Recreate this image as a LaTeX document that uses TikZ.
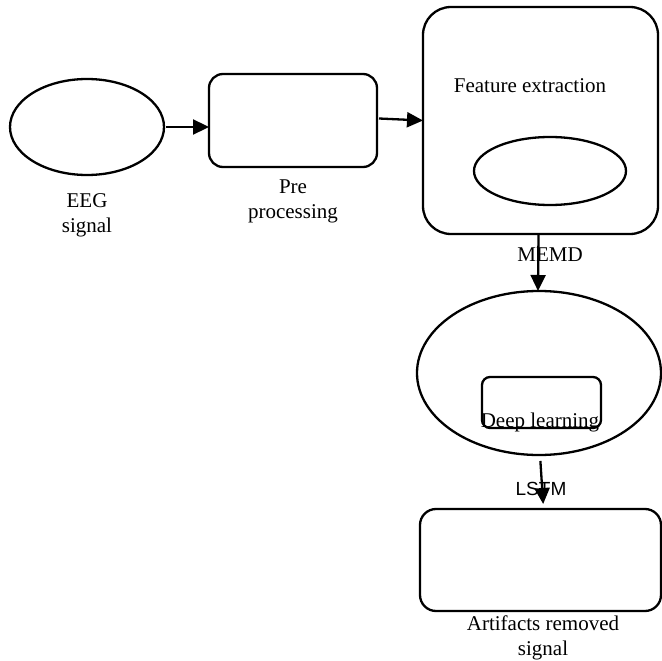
\documentclass[tikz,border=0pt]{standalone}
\usepackage{fontspec}
\setmainfont{Liberation Serif}
\newfontfamily\lsans{Liberation Sans}
\usetikzlibrary{shapes.geometric,arrows.meta}
\begin{document}
\begin{tikzpicture}[x=1pt,y=-1pt,
  every node/.style={inner sep=0pt, outer sep=0pt},
  shp/.style={draw, line width=2.3pt},
  ell/.style={shp, ellipse},
  rbox/.style={shp, rectangle},
  lbl/.style={font=\fontsize{21}{25}\selectfont, align=center},
  arr/.style={line width=2.3pt, -{Triangle[length=16pt,width=15pt]}}
]
\useasboundingbox (0,0) rectangle (662,661);
% shapes
\node[ell, minimum width=154pt, minimum height=96pt] (eeg) at (87,127) {};
\node[rbox, rounded corners=14pt, minimum width=168pt, minimum height=93pt] (pre) at (293,120.5) {};
\node[rbox, rounded corners=28pt, minimum width=235pt, minimum height=227pt] (feat) at (540.5,120.5) {};
\node[ell, minimum width=152pt, minimum height=68pt] (featell) at (550,171) {};
\node[ell, minimum width=244pt, minimum height=164pt] (deep) at (539,373) {};
\node[rbox, rounded corners=8pt, minimum width=119pt, minimum height=51pt] (deeprect) at (541.5,402.5) {};
\node[rbox, rounded corners=16pt, minimum width=241pt, minimum height=102pt] (out) at (540.5,560) {};
% labels
\node[lbl] (eeglbl) at (87,215) {EEG\\signal};
\node[lbl] (prelbl) at (293,201) {Pre\\processing};
\node[lbl] (featlbl) at (530,86) {Feature extraction};
\node[lbl] (deeplbl) at (540,422) {Deep learning};
\node[lbl] (outlbl) at (543,638) {Artifacts removed\\signal};
% connectors
\draw[arr] (eeg.east) ++(2pt,0) -- (eeg.east -| pre.west);
\draw[arr] ([yshift=2pt]pre.east) ++(2pt,0) -- (feat.west);
\draw[arr] ([xshift=-2pt]feat.south) -- ([xshift=-1pt]deep.north);
\draw[arr, shorten <=6pt, shorten >=5pt] ([xshift=1pt]deep.south) -- ([xshift=3pt]out.north);
\node[lbl] (memd) at (550,255) {MEMD};
\node[font=\lsans\fontsize{19}{22}\selectfont] (lstm) at (541,489) {LSTM};
\end{tikzpicture}
\end{document}
